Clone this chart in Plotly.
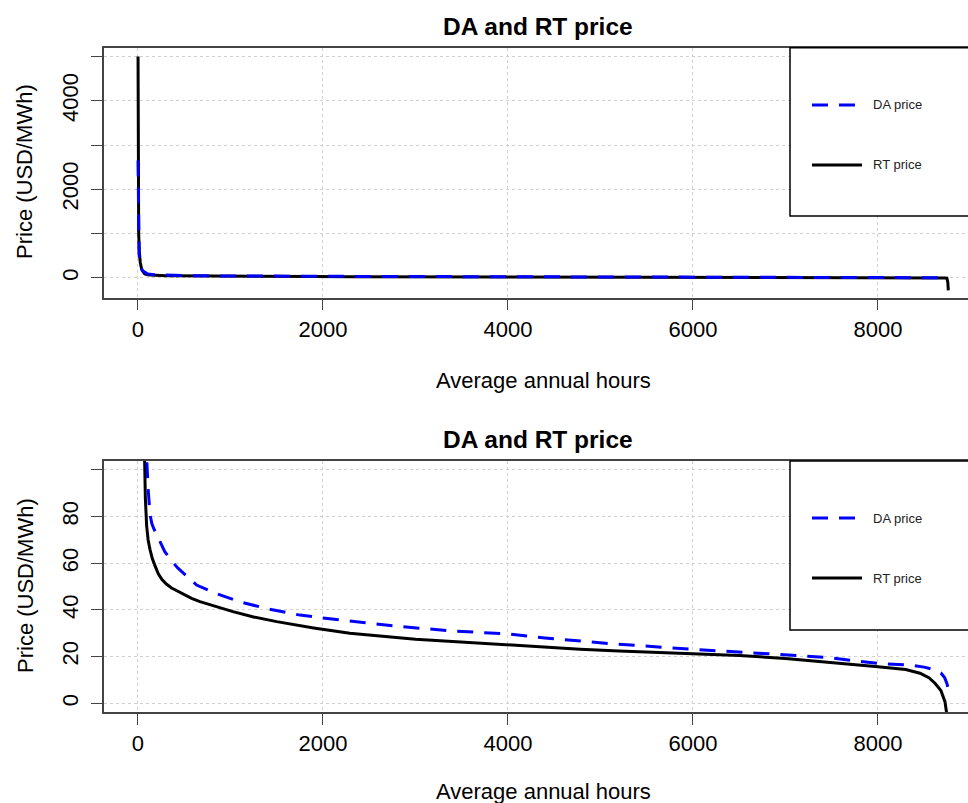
import plotly.graph_objects as go

# ---- data (price duration curves) ----
rt_hours = [1, 2, 4, 8, 15, 25, 40, 55, 68, 80, 94, 110, 130, 155, 184, 220,
            260, 310, 364, 430, 500, 580, 670, 800, 1027, 1250, 1500, 1900,
            2290, 3000, 3500, 4000, 4400, 4778, 5200, 5600, 6000, 6500, 7000,
            7438, 8000, 8300, 8454, 8550, 8616, 8680, 8724, 8745, 8755, 8760]
rt_price = [5000, 3000, 1500, 1000, 600, 350, 200, 140, 104, 88, 76, 70, 66,
            62, 59, 55.5, 53, 51, 49.4, 48, 46.5, 45, 43.6, 42, 39.3, 37, 35,
            32.3, 30, 27.5, 26.2, 25, 24, 23.2, 22.4, 21.9, 21.4, 20.5, 19.2,
            17.8, 15.7, 14.5, 12.9, 11, 8.6, 5.5, 0.7, -5, -100, -280]

da_hours = [1, 2, 3, 5, 8, 12, 18, 25, 35, 50, 70, 94, 110, 130, 150, 170,
            216, 290, 364, 430, 500, 634, 850, 1103, 1400, 1751, 2184, 2800,
            3400, 4000, 4400, 4778, 5100, 5400, 6000, 6700, 7438, 7730, 8000,
            8346, 8500, 8616, 8680, 8720, 8745, 8760]
da_price = [2650, 2000, 1500, 1000, 750, 550, 400, 300, 220, 160, 125, 104,
            92, 81, 77, 75, 71, 65, 61, 58, 55.5, 50.7, 47, 43.5, 40.5, 37.8,
            35.7, 33, 31, 29.7, 28, 26.6, 25.6, 24.8, 23.1, 21.5, 19.7, 18.3,
            17.1, 16.4, 15.5, 14.3, 13, 11, 8.5, 6]

x_ticks = [0, 2000, 4000, 6000, 8000]
y1_ticks = [0, 1000, 2000, 3000, 4000, 5000]
y1_labels = ["0", "", "2000", "", "4000", ""]
y2_ticks = [0, 20, 40, 60, 80, 100]
y2_labels = ["0", "20", "40", "60", "80", ""]

title_text = "DA and RT price"
x_title = "Average annual hours"
y_title = "Price (USD/MWh)"
legend_labels = ["DA price", "RT price"]

W, H = 968, 803
ML = 104
FONT = "Liberation Sans, Arial, sans-serif"
AX = "#444444"
GRID = "#d0d0d0"
DA_COLOR = "#0000ff"
DA_DASH = "16px,11px"


def px(x):
    # paper x spans the plotting area (left margin ML, no right margin)
    return (x - ML) / (W - ML)


def py(y):
    return 1 - y / H


fig = go.Figure()
for xa, ya in [("x", "y"), ("x2", "y2")]:
    fig.add_trace(go.Scatter(x=rt_hours, y=rt_price, mode="lines", xaxis=xa, yaxis=ya,
                             line=dict(color="black", width=3), showlegend=False,
                             name=legend_labels[1]))
    fig.add_trace(go.Scatter(x=da_hours, y=da_price, mode="lines", xaxis=xa, yaxis=ya,
                             line=dict(color=DA_COLOR, width=3, dash=DA_DASH),
                             showlegend=False, name=legend_labels[0]))

xcommon = dict(range=[-367, 8973], tickvals=x_ticks, ticks="outside", ticklen=11,
               tickcolor=AX, tickwidth=1, showline=True, linecolor=AX, linewidth=1.5,
               mirror=True, showgrid=True, gridcolor=GRID, griddash="dot",
               gridwidth=1, zeroline=False, automargin=False,
               tickfont=dict(family=FONT, size=22, color="black"),
               ticklabelstandoff=0)
ycommon = dict(ticks="outside", ticklen=11, tickcolor=AX, tickwidth=1,
               showline=True, linecolor=AX, linewidth=1.5, mirror=False,
               showgrid=True, gridcolor=GRID, griddash="dot", gridwidth=1,
               zeroline=False, automargin=False, tickangle=-90,
               tickfont=dict(family=FONT, size=22, color="black"),
               ticklabelstandoff=4)

top_dom = [py(297.7), py(47.7)]
bot_dom = [py(712), py(461)]

fig.update_layout(
    width=W, height=H,
    margin=dict(l=ML, r=0, t=0, b=0),
    paper_bgcolor="white", plot_bgcolor="white",
    xaxis=dict(domain=[0, 1], anchor="y", **xcommon),
    yaxis=dict(domain=top_dom, anchor="x", range=[-445, 5198], tickvals=y1_ticks,
               ticktext=y1_labels, **ycommon),
    xaxis2=dict(domain=[0, 1], anchor="y2", **xcommon),
    yaxis2=dict(domain=bot_dom, anchor="x2", range=[-3.73, 103.85], tickvals=y2_ticks,
                ticktext=y2_labels, **ycommon),
    showlegend=False,
)

annotations = []
shapes = []
for (t_y, xt_y, yt_y, box_top, box_bot, da_y, rt_y) in [
        (26, 380, 172, 47.7, 216, 105, 165),
        (439, 791, 586, 461, 630, 518, 578)]:
    annotations.append(dict(text="<b>" + title_text + "</b>", x=px(538), y=py(t_y),
                            xref="paper", yref="paper", showarrow=False,
                            xanchor="center", yanchor="middle",
                            font=dict(family=FONT, size=24.5, color="black")))
    annotations.append(dict(text=x_title, x=px(543), y=py(xt_y), xref="paper",
                            yref="paper", showarrow=False, xanchor="center",
                            yanchor="middle",
                            font=dict(family=FONT, size=22, color="black")))
    annotations.append(dict(text=y_title, x=px(25), y=py(yt_y), xref="paper",
                            yref="paper", showarrow=False, xanchor="center",
                            yanchor="middle", textangle=-90,
                            font=dict(family=FONT, size=22, color="black")))
    # legend box
    shapes.append(dict(type="rect", xref="paper", yref="paper", x0=px(790), x1=px(990),
                       y0=py(box_bot), y1=py(box_top), line=dict(color="black", width=1.5),
                       fillcolor="white", layer="above"))
    shapes.append(dict(type="line", xref="paper", yref="paper", x0=px(812), x1=px(862),
                       y0=py(da_y), y1=py(da_y),
                       line=dict(color=DA_COLOR, width=3, dash=DA_DASH), layer="above"))
    shapes.append(dict(type="line", xref="paper", yref="paper", x0=px(812), x1=px(862),
                       y0=py(rt_y), y1=py(rt_y),
                       line=dict(color="black", width=3), layer="above"))
    for lab, yy in zip(legend_labels, [da_y, rt_y]):
        annotations.append(dict(text=lab, x=px(871), y=py(yy), xref="paper", yref="paper",
                                showarrow=False, xanchor="left", yanchor="middle",
                                font=dict(family=FONT, size=13, color="#222222")))

fig.update_layout(annotations=annotations, shapes=shapes)
fig.write_html("out.html")
